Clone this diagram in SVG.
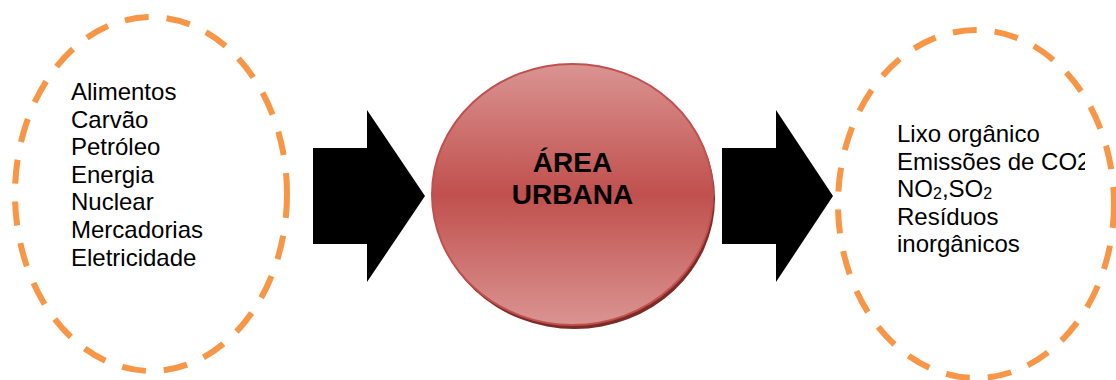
<svg xmlns="http://www.w3.org/2000/svg" width="1116" height="380" viewBox="0 0 1116 380">
  <defs>
    <linearGradient id="redGrad" x1="0" y1="0" x2="0" y2="1">
      <stop offset="0" stop-color="#DA9492"/>
      <stop offset="0.5" stop-color="#C0504D"/>
      <stop offset="1" stop-color="#DA9492"/>
    </linearGradient>
    <clipPath id="clipRight">
      <rect x="0" y="0" width="1085" height="380"/>
    </clipPath>
  </defs>
  <style>
    .dashed { fill: none; stroke: #F79646; stroke-width: 6; stroke-dasharray: 24 18; }
    .label { font-family: "Liberation Sans", Arial, sans-serif; font-size: 24px; fill: #000000; }
    .title { font-family: "Liberation Sans", Arial, sans-serif; font-size: 28px; font-weight: bold; fill: #000000; text-anchor: middle; }
    .arrow { fill: #000000; }
  </style>
  <rect width="1116" height="380" fill="#FFFFFF"/>

  <g id="inputs">
    <ellipse class="dashed" cx="151" cy="194" rx="136" ry="177"/>
    <text class="label" x="71" y="100">Alimentos</text>
    <text class="label" x="71" y="127.6">Carvão</text>
    <text class="label" x="71" y="155.2">Petróleo</text>
    <text class="label" x="71" y="182.8">Energia</text>
    <text class="label" x="71" y="210.4">Nuclear</text>
    <text class="label" x="71" y="238">Mercadorias</text>
    <text class="label" x="71" y="265.6">Eletricidade</text>
  </g>

  <g id="urban-area">
    <ellipse cx="574.5" cy="198.5" rx="140.5" ry="130.5" fill="#7E2A27"/>
    <ellipse cx="572.5" cy="194.5" rx="140.5" ry="130.5" fill="url(#redGrad)" stroke="#C0504D" stroke-width="2"/>
    <text class="title" x="572.5" y="172">ÁREA</text>
    <text class="title" x="572.5" y="204">URBANA</text>
  </g>

  <g id="outputs">
    <ellipse class="dashed" cx="976" cy="204" rx="138" ry="174"/>
    <text class="label" x="897" y="142">Lixo orgânico</text>
    <text class="label" x="897" y="169.6" clip-path="url(#clipRight)">Emissões de CO2</text>
    <text class="label" x="897" y="197.2">NO<tspan font-size="16" dy="2">2</tspan><tspan dy="-2">,SO</tspan><tspan font-size="16" dy="2">2</tspan></text>
    <text class="label" x="897" y="224.8">Resíduos</text>
    <text class="label" x="897" y="252.4">inorgânicos</text>
  </g>

  <g id="connectors">
    <polygon class="arrow" points="313,148 367,148 367,110 425,196 367,282 367,244 313,244"/>
    <polygon class="arrow" points="722,148 776,148 776,110 833,196 776,282 776,244 722,244"/>
  </g>
</svg>
